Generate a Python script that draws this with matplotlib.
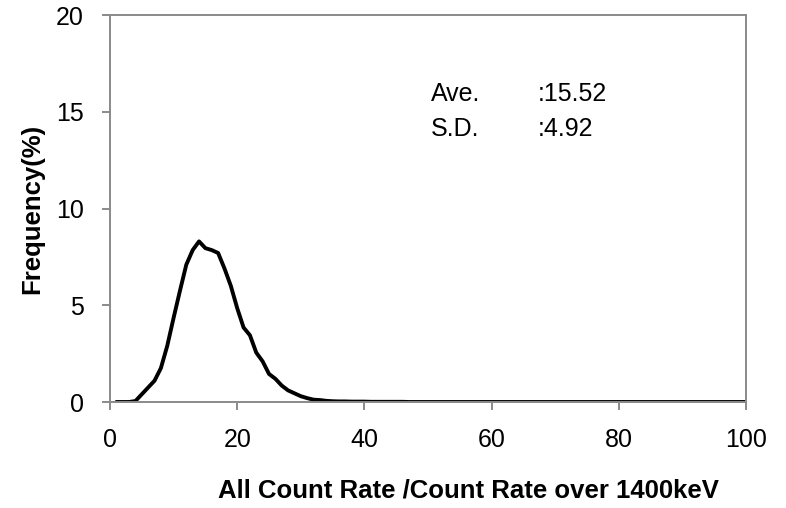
import matplotlib
matplotlib.use("Agg")
import matplotlib.pyplot as plt

plt.rcParams['font.family'] = ['Liberation Sans', 'DejaVu Sans']

# Ratio bins (1..100) and frequency in percent
ratio = list(range(1, 101))
frequency = [
    0.00, 0.00, 0.00, 0.05, 0.40, 0.75, 1.10, 1.75, 2.90, 4.35,
    5.75, 7.10, 7.85, 8.30, 7.95, 7.85, 7.70, 6.90, 6.00, 4.85,
    3.85, 3.45, 2.55, 2.10, 1.45, 1.20, 0.85, 0.60, 0.45, 0.30,
    0.20, 0.12, 0.10, 0.06, 0.04, 0.03, 0.03, 0.02, 0.02, 0.02,
    0.01, 0.01, 0.01, 0.01, 0.01, 0.01, 0.00, 0.00, 0.00, 0.00,
    0.00, 0.00, 0.00, 0.00, 0.00, 0.00, 0.00, 0.00, 0.00, 0.00,
    0.00, 0.00, 0.00, 0.00, 0.00, 0.00, 0.00, 0.00, 0.00, 0.00,
    0.00, 0.00, 0.00, 0.00, 0.00, 0.00, 0.00, 0.00, 0.00, 0.00,
    0.00, 0.00, 0.00, 0.00, 0.00, 0.00, 0.00, 0.00, 0.00, 0.00,
    0.00, 0.00, 0.00, 0.00, 0.00, 0.00, 0.00, 0.00, 0.00, 0.00,
]
x_ticks = [0, 20, 40, 60, 80, 100]
y_ticks = [0, 5, 10, 15, 20]
stats_names = ["Ave.", "S.D."]
stats_values = [":15.52", ":4.92"]

W, H = 786, 508
fig = plt.figure(figsize=(W / 100, H / 100), dpi=100)
ax = fig.add_axes([110 / W, 106 / H, 636 / W, 387 / H])

ax.plot(ratio, frequency, color='black', linewidth=2.8,
        solid_joinstyle='round', solid_capstyle='round')

ax.set_xlim(0, 100)
ax.set_ylim(0, 20)
ax.set_xticks(x_ticks)
ax.set_yticks(y_ticks)

frame_color = '#8a8a8a'
for side in ['left', 'right', 'top', 'bottom']:
    ax.spines[side].set_color(frame_color)
    ax.spines[side].set_linewidth(1.4)
ax.tick_params(axis='both', direction='out', length=6, width=1.4,
               color=frame_color, labelsize=18, labelcolor='black', pad=13)

# Axis titles
fig.text(468 / W, 1 - 498 / H, "All Count Rate /Count Rate over 1400keV",
         fontsize=18.5, fontweight='bold', ha='center', va='baseline')
fig.text(32 / W, 1 - 209 / H, "Frequency(%)", fontsize=18.5,
         fontweight='bold', rotation=90, ha='center', va='center')

# Summary statistics
for i, (name, val) in enumerate(zip(stats_names, stats_values)):
    y = 15.55 - i * 1.8
    ax.text(50.5, y, name, fontsize=18, va='baseline', ha='left')
    ax.text(67.2, y, val, fontsize=18, va='baseline', ha='left')

fig.savefig("out.png", dpi=100)
